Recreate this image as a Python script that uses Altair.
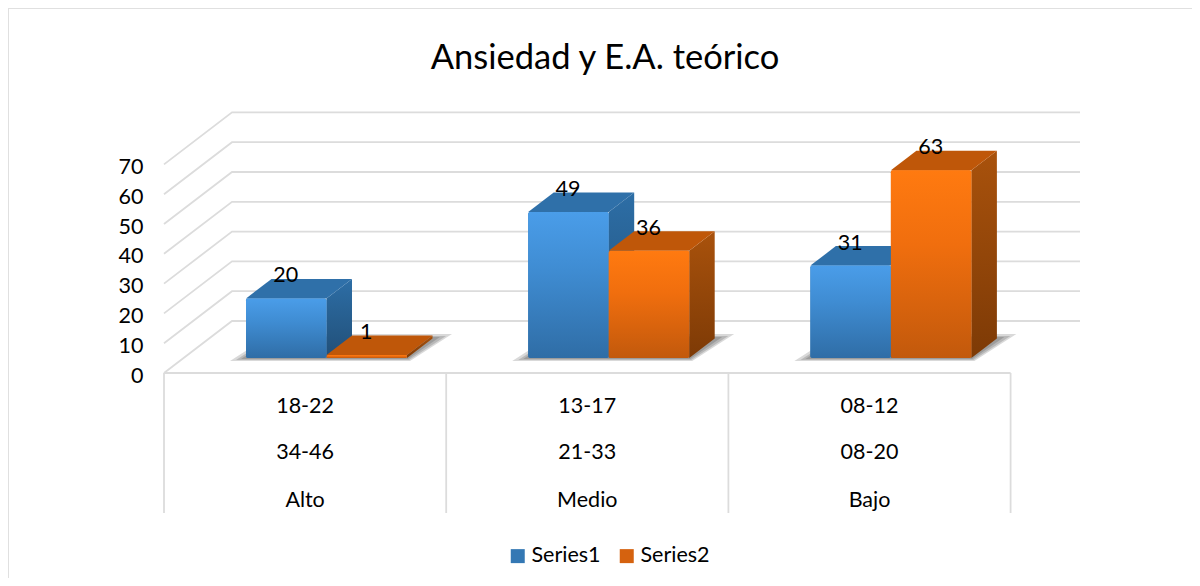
import altair as alt
import pandas as pd

categories = ["Alto", "Medio", "Bajo"]
row_upper = ["18-22", "13-17", "08-12"]
row_middle = ["34-46", "21-33", "08-20"]
series_names = ["Series1", "Series2"]
series1 = [20, 49, 31]
series2 = [1, 36, 63]
ticks = [0, 10, 20, 30, 40, 50, 60, 70]

FONT = "Lato"
TEXT_SIZE = 21.5
W, H = 1184, 570
PX_PER_UNIT = 2.98
Y0 = 373.0            # page y of the axis zero on the front plane


def X(px):
    return px - 8


def U(py):
    return (Y0 - py) / PX_PER_UNIT


x_scale = alt.Scale(domain=[0, W], range=[0, W], nice=False, zero=False)
y_scale = alt.Scale(domain=[U(8 + H), U(8)], nice=False, zero=False)

WALL_DX, WALL_DU = 68, 52 / PX_PER_UNIT
BAR_DX, BAR_DU = 25.5, 19.5 / PX_PER_UNIT
BASE = U(358)
LEFT, SLOT = 164, 282.2
GRID = "#dcdcdc"


def para(key, xl, xr, yf, dx, du):
    """Parallelogram lying back from the front edge xl..xr at value yf."""
    return [
        dict(key=key, x=X(xl), y=yf, y2=yf),
        dict(key=key, x=X(xl + dx), y=yf + du, y2=yf),
        dict(key=key, x=X(xr), y=yf + du, y2=yf),
        dict(key=key, x=X(xr + dx), y=yf + du, y2=yf + du),
    ]


bars, tops, sides, labels, shadows = [], [], [], [], []
for i, cat in enumerate(categories):
    xs = LEFT + SLOT * i + 82
    for j, (name, vals) in enumerate(zip(series_names, (series1, series2))):
        v = vals[i]
        xl = xs + 80.5 * j
        xr = xl + 80.5
        top = BASE + v
        key = f"{cat}-{name}"
        bars.append(dict(series=name, x=X(xl), x2=X(xr), y=BASE, y2=top))
        for r in para(key, xl, xr, top, BAR_DX, BAR_DU):
            tops.append({**r, "series": name})
        sides += [
            dict(series=name, key=key, x=X(xr), y=top, y2=BASE),
            dict(series=name, key=key, x=X(xr + BAR_DX), y=top + BAR_DU, y2=BASE + BAR_DU),
        ]
        labels.append(dict(series=name, x=X((xl + xr) / 2 - 0.5), y=top + 22 / PX_PER_UNIT, t=str(v)))
    for k, (sl, sd, dx, dy) in enumerate([(16, 3, 42, 27), (10, 2, 37, 24), (5, 1, 32, 22)]):
        for r in para(f"{cat}{k}", xs - sl, xs + 161 + sd, BASE - sd / PX_PER_UNIT, dx, dy / PX_PER_UNIT):
            shadows.append({**r, "layer": k})

bars, tops, sides, labels = map(pd.DataFrame, (bars, tops, sides, labels))
shadows = pd.DataFrame(shadows)

# walls
grid = []
for t in ticks:
    grid += [
        dict(t=t, x=X(LEFT), y=t),
        dict(t=t, x=X(LEFT + WALL_DX), y=t + WALL_DU),
        dict(t=t, x=X(1080), y=t + WALL_DU),
    ]
grid = pd.DataFrame(grid)

seps = pd.DataFrame(
    [dict(x=X(LEFT + SLOT * i), y=0, y2=U(513)) for i in range(4)]
)
floor = pd.DataFrame([dict(x=X(LEFT), x2=X(LEFT + SLOT * 3), y=0)])
frame_h = pd.DataFrame([dict(x=0, x2=W, y=U(8))])
frame_v = pd.DataFrame([dict(x=0, y=U(8), y2=U(8 + H))])

rows = []
for i, cat in enumerate(categories):
    cx = X(LEFT + SLOT * i + SLOT / 2)
    for py, t in zip((407, 453, 501), (row_upper[i], row_middle[i], cat)):
        rows.append(dict(x=cx, y=U(py), t=t))
rows = pd.DataFrame(rows)

y_axis = alt.Axis(
    values=ticks, domain=False, ticks=False, grid=False, title=None,
    labelFont=FONT, labelFontSize=TEXT_SIZE, labelColor="#000000",
    labelPadding=0, labelOffset=3, offset=-135,
)
xq = alt.X("x:Q", scale=x_scale, axis=None)
yq = alt.Y("y:Q", scale=y_scale, axis=y_axis)
x2 = alt.X2("x2:Q")
y2 = alt.Y2("y2:Q")


def grad(*stops):
    return alt.LinearGradient(
        gradient="linear",
        x1=0, x2=0, y1=0, y2=1,
        stops=[alt.GradientStop(color=c, offset=o) for c, o in stops],
    )


FRONT = {
    "Series1": grad(("#4a9de9", 0), ("#3f8cd2", 0.4), ("#2f6da6", 1)),
    "Series2": grad(("#ff7a10", 0), ("#f06e0e", 0.4), ("#c2590c", 1)),
}
TOP = {"Series1": "#2f70a9", "Series2": "#bf5709"}
SIDE = {
    "Series1": grad(("#2d6ea6", 0), ("#214f78", 1)),
    "Series2": grad(("#a9520c", 0), ("#7d3a06", 1)),
}

line_common = dict(color=GRID, strokeWidth=1.8)

layers = [
    alt.Chart(frame_h).mark_rule(color="#e0e0e0", strokeWidth=2).encode(xq, x2, yq),
    alt.Chart(frame_v).mark_rule(color="#e0e0e0", strokeWidth=2).encode(xq, yq, y2),
    alt.Chart(grid).mark_line(**line_common).encode(xq, yq, detail="t:N"),
    alt.Chart(floor).mark_rule(**line_common).encode(xq, x2, yq),
    alt.Chart(seps).mark_rule(**line_common).encode(xq, yq, y2),
]

for k in range(3):
    layers.append(
        alt.Chart(shadows[shadows["layer"] == k])
        .mark_area(color="#000000", opacity=0.15)
        .encode(xq, yq, y2, detail="key:N")
    )

layers.append(
    alt.Chart(bars)
    .mark_rect(cornerRadius=2)
    .encode(
        xq, x2, yq, y2,
        color=alt.Color(
            "series:N",
            scale=alt.Scale(domain=series_names, range=["#3478b4", "#d5620f"]),
            legend=alt.Legend(
                title=None, orient="none", direction="horizontal",
                legendX=499, legendY=537, symbolType="square", symbolSize=196,
                symbolStrokeWidth=0, labelFont=FONT, labelFontSize=TEXT_SIZE,
                labelColor="#000000", labelOffset=3, columnPadding=15, padding=0,
            ),
        ),
    )
)

for name in series_names:
    layers += [
        alt.Chart(sides[sides["series"] == name])
        .mark_area(color=SIDE[name])
        .encode(xq, yq, y2, detail="key:N"),
        alt.Chart(tops[tops["series"] == name])
        .mark_area(color=TOP[name])
        .encode(xq, yq, y2, detail="key:N"),
        alt.Chart(bars[bars["series"] == name])
        .mark_rect(cornerRadius=2, color=FRONT[name])
        .encode(xq, x2, yq, y2),
    ]

layers += [
    alt.Chart(labels)
    .mark_text(font=FONT, fontSize=TEXT_SIZE, color="#000000", baseline="middle")
    .encode(xq, yq, text="t:N"),
    alt.Chart(rows)
    .mark_text(font=FONT, fontSize=TEXT_SIZE, color="#000000", baseline="middle")
    .encode(xq, yq, text="t:N"),
]

chart = (
    alt.layer(*layers)
    .properties(
        width=W,
        height=H,
        padding=0,
        autosize=alt.AutoSizeParams(type="none"),
        background="#ffffff",
        title=alt.TitleParams(
            "Ansiedad y E.A. teórico",
            font=FONT, fontSize=34.5, fontWeight="normal", color="#000000",
            anchor="middle", offset=-69, dx=5,
        ),
    )
    .configure_view(stroke=None)
)

chart.save("out.html", embed_options={"renderer": "svg", "actions": False})
